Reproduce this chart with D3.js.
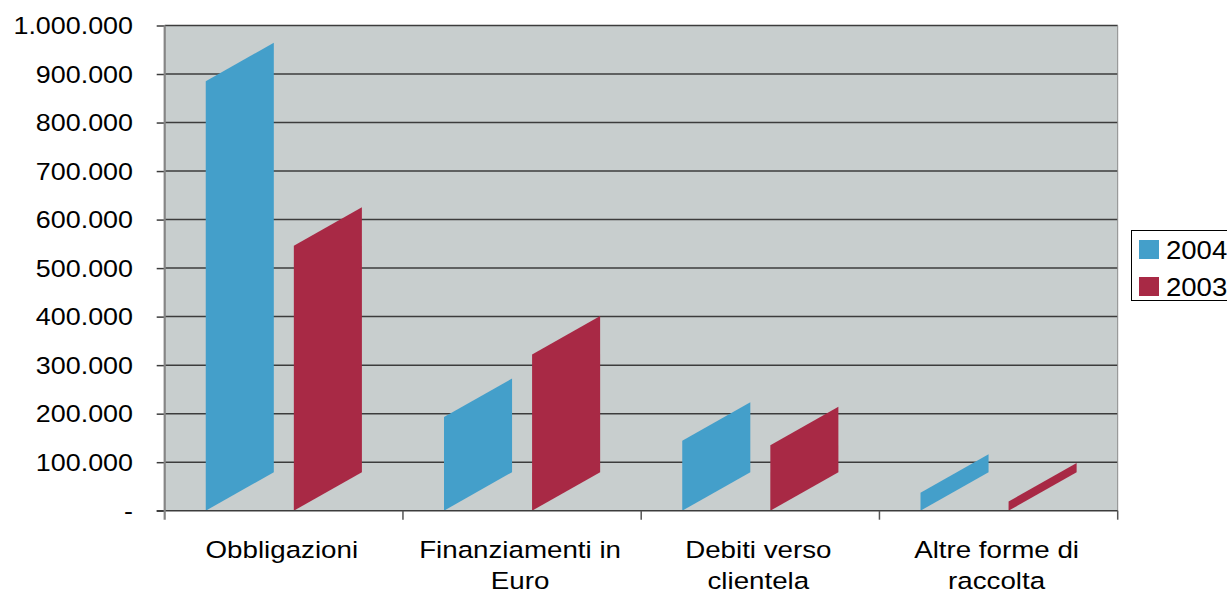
<!DOCTYPE html>
<html>
<head>
<meta charset="utf-8">
<script src="https://cdn.jsdelivr.net/npm/d3@7"></script>
<style>
  html, body { margin: 0; background: #ffffff; }
  svg { display: block; }
  text { font-family: "Liberation Sans", Arial, Helvetica, sans-serif; fill: #000; }
</style>
</head>
<body>
<svg id="chart" width="1227" height="596"></svg>
<script>
// Raccolta per forma tecnica, 2004 vs 2003
const categories = ["Obbligazioni", "Finanziamenti in Euro", "Debiti verso clientela", "Altre forme di raccolta"];
const seriesNames = ["2004", "2003"];
const values2004 = [885000, 193000, 144000, 37000];
const values2003 = [546000, 322000, 135000, 19000];
const yTickValues = [0, 100000, 200000, 300000, 400000, 500000, 600000, 700000, 800000, 900000, 1000000];
const seriesColors = ["#449FCA", "#A82945"];

const seriesValues = [values2004, values2003];

// layout
const plot = { left: 164.7, right: 1117.7, top: 25.5, bottom: 510.7 };
const depth = 38.5;          // vertical skew of the bar tops (3D look)

const svg = d3.select("#chart");

const y = d3.scaleLinear().domain([0, 1000000]).range([plot.bottom, plot.top]);
const x = d3.scaleBand().domain(categories).range([plot.left, plot.right]).paddingInner(0).paddingOuter(0);
const xs = d3.scaleBand().domain(seriesNames).range([0, x.bandwidth()])
  .paddingInner(0.2273).paddingOuter(0.466);

const it = d3.formatLocale({ decimal: ",", thousands: ".", grouping: [3], currency: ["€", ""] });
const fmt = v => v === 0 ? "-" : it.format(",d")(v);

// plot area
svg.append("rect")
  .attr("x", plot.left).attr("y", plot.top)
  .attr("width", plot.right - plot.left).attr("height", plot.bottom - plot.top)
  .attr("fill", "#C8CECE");

// gridlines
svg.append("g").selectAll("line").data(yTickValues.filter(v => v > 0)).join("line")
  .attr("x1", plot.left).attr("x2", plot.right)
  .attr("y1", d => y(d)).attr("y2", d => y(d))
  .attr("stroke", "#3c3c3c").attr("stroke-width", 1.5);

// right border of plot area
svg.append("line")
  .attr("x1", plot.right).attr("x2", plot.right)
  .attr("y1", plot.top).attr("y2", plot.bottom)
  .attr("stroke", "#8a8a8a").attr("stroke-width", 1);

// bars: parallelograms, right side raised by `depth`
const barData = [];
categories.forEach((c, i) => {
  seriesNames.forEach((s, j) => {
    barData.push({ cat: c, series: s, value: seriesValues[j][i], color: seriesColors[j] });
  });
});

svg.append("g").selectAll("path").data(barData).join("path")
  .attr("d", d => {
    const x0 = x(d.cat) + xs(d.series);
    const x1 = x0 + xs.bandwidth();
    const yb = y(0), yt = y(d.value);
    return `M${x0},${yb}L${x0},${yt}L${x1},${yt - depth}L${x1},${yb - depth}Z`;
  })
  .attr("fill", d => d.color);

// bottom axis line and ticks at category boundaries
svg.append("line")
  .attr("x1", plot.left - 8).attr("x2", plot.right)
  .attr("y1", plot.bottom).attr("y2", plot.bottom)
  .attr("stroke", "#3c3c3c").attr("stroke-width", 1.5);

const boundaries = categories.map(c => x(c)).concat([x(categories[categories.length - 1]) + x.bandwidth()]);
svg.append("g").selectAll("line").data(boundaries.slice(1)).join("line")
  .attr("x1", d => d).attr("x2", d => d)
  .attr("y1", plot.bottom).attr("y2", plot.bottom + 9)
  .attr("stroke", "#555").attr("stroke-width", 1.5);

// left axis
const yAxis = d3.axisLeft(y).tickValues(yTickValues).tickSize(8).tickFormat("");
const gy = svg.append("g").attr("transform", `translate(${plot.left},0)`).call(yAxis);
gy.select(".domain").remove();
gy.selectAll(".tick line").attr("stroke", "#3c3c3c").attr("stroke-width", 1.5);

svg.append("line")
  .attr("x1", plot.left).attr("x2", plot.left)
  .attr("y1", plot.top).attr("y2", plot.bottom + 9)
  .attr("stroke", "#858585").attr("stroke-width", 2.2);

// y tick labels
svg.append("g").selectAll("text").data(yTickValues).join("text")
  .attr("transform", d => `translate(133,${y(d)}) scale(1.12,1)`)
  .attr("text-anchor", "end")
  .attr("dy", "0.36em")
  .style("font-size", "24px")
  .text(fmt);

// category labels (wrapped onto two lines at the last space)
const wrap = s => {
  const k = s.lastIndexOf(" ");
  return k < 0 ? [s] : [s.slice(0, k), s.slice(k + 1)];
};
const catLabels = svg.append("g").selectAll("text").data(categories).join("text")
  .attr("transform", d => `translate(${x(d) + x.bandwidth() / 2 - 2},558) scale(1.18,1)`)
  .attr("text-anchor", "middle")
  .style("font-size", "23.5px");
catLabels.selectAll("tspan").data(d => wrap(d)).join("tspan")
  .attr("x", 0)
  .attr("y", (d, i) => i * 31)
  .text(d => d);

// legend
const legend = svg.append("g");
legend.append("rect")
  .attr("x", 1131.5).attr("y", 230.5).attr("width", 110).attr("height", 70)
  .attr("fill", "#fff").attr("stroke", "#000").attr("stroke-width", 1);
const li = legend.selectAll("g.item").data(seriesNames).join("g")
  .attr("class", "item")
  .attr("transform", (d, i) => `translate(1139,${240 + i * 37})`);
li.append("rect").attr("width", 20).attr("height", 19).attr("fill", (d, i) => seriesColors[i]);
li.append("text")
  .attr("transform", `translate(27,9.5) scale(1.08,1)`)
  .attr("dy", "0.36em")
  .style("font-size", "25.5px")
  .text(d => d);
</script>
</body>
</html>
